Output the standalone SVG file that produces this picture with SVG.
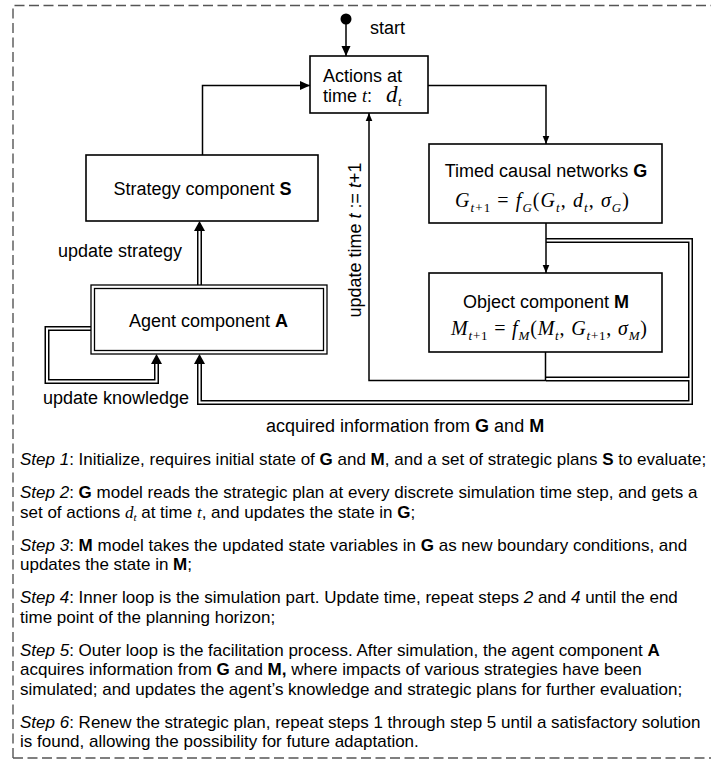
<svg xmlns="http://www.w3.org/2000/svg" width="711" height="764" viewBox="0 0 711 764">
<style>
text { font-family: "Liberation Sans", Arial, sans-serif; fill: #000; }
.lbl { font-size: 18px; }
.step { font-size: 17px; }
.b { font-weight: bold; }
.i { font-style: italic; }
.math { font-family: "Liberation Serif", "Times New Roman", serif; font-style: italic; font-size: 20px; }
.sub { font-size: 13px; }
.rm { font-style: normal; }
.box { fill: #fff; stroke: #000; stroke-width: 1.6; }
.thin { fill: none; stroke: #000; stroke-width: 1.3; }
.wire { fill: none; stroke: #000; stroke-width: 1.5; }
.dbl-outer { fill: none; stroke: #000; stroke-width: 5; }
.dbl-inner { fill: none; stroke: #fff; stroke-width: 2; }
.frame { fill: none; stroke: #555; stroke-width: 1.4; stroke-dasharray: 10 4.5; }
</style>
<defs>
  <marker id="arrow" markerUnits="userSpaceOnUse" markerWidth="10" markerHeight="10" refX="0" refY="0" orient="auto" overflow="visible">
    <path d="M-10,-4.5 L0,0 L-10,4.5 Z" fill="#000"/>
  </marker>
  <marker id="arrowSm" markerUnits="userSpaceOnUse" markerWidth="8" markerHeight="8" refX="0" refY="0" orient="auto" overflow="visible">
    <path d="M-8,-3.3 L0,0 L-8,3.3 Z" fill="#000"/>
  </marker>
  <marker id="arrowDbl" markerUnits="userSpaceOnUse" markerWidth="10" markerHeight="10" refX="0" refY="0" orient="auto" overflow="visible">
    <path d="M0,-5.5 L10,0 L0,5.5 Z" fill="#000"/>
  </marker>
</defs>

<!-- dashed frame around the whole figure -->
<path class="frame" d="M13,758 V5.5 H711"/>
<path class="frame" d="M13,758 H711"/>

<g id="connectors">
  <!-- start arrow -->
  <line class="wire" x1="346" y1="19" x2="346" y2="56" marker-end="url(#arrow)"/>
  <!-- strategy to actions -->
  <path class="wire" d="M202.5,155 V85.5 H310" marker-end="url(#arrow)"/>
  <!-- actions to G -->
  <path class="wire" d="M428,85.5 H546 V144" marker-end="url(#arrowSm)"/>
  <!-- double lines: outer facilitation loop -->
  <path class="dbl-outer" d="M546,240.5 H690.5 V402.5 H199.5 V364" marker-end="url(#arrowDbl)"/>
  <path class="dbl-outer" d="M546,379 H690.5"/>
  <path class="dbl-outer" d="M199.5,285 V231" marker-end="url(#arrowDbl)"/>
  <path class="dbl-outer" d="M91,328.5 H47 V381.5 H156.5 V364" marker-end="url(#arrowDbl)"/>
  <path class="dbl-inner" d="M546,240.5 H690.5 V402.5 H199.5 V364"/>
  <path class="dbl-inner" d="M546,379 H690.5"/>
  <path class="dbl-inner" d="M199.5,285 V231"/>
  <path class="dbl-inner" d="M91,328.5 H47 V381.5 H156.5 V364"/>
  <!-- G to M -->
  <line class="wire" x1="546" y1="223" x2="546" y2="273" marker-end="url(#arrowSm)"/>
  <!-- inner simulation loop: update time -->
  <path class="wire" d="M545.5,352 V380.5 H369 V113" marker-end="url(#arrowSm)"/>
</g>

<g id="start">
  <circle cx="346" cy="19" r="5.5" fill="#000"/>
  <text class="lbl" x="370" y="34">start</text>
</g>

<g id="actions">
  <rect class="box" x="310" y="56" width="118" height="57"/>
  <text class="lbl" x="323" y="82">Actions at</text>
  <text class="lbl" x="323" y="102">time <tspan class="math" style="font-size:18px">t</tspan>:</text>
  <text class="math" x="386" y="102" style="font-size:23px">d</text>
  <text class="math sub" x="398" y="106">t</text>
</g>

<g id="strategy">
  <rect class="box" x="86" y="155" width="232" height="66"/>
  <text class="lbl" x="202.5" y="195" text-anchor="middle">Strategy component <tspan class="b">S</tspan></text>
</g>

<g id="agent">
  <rect class="box" x="91" y="285" width="236" height="69" style="stroke-width:1.3"/>
  <rect class="thin" x="94.5" y="288.5" width="229" height="62"/>
  <text class="lbl" x="208.5" y="327" text-anchor="middle">Agent component <tspan class="b">A</tspan></text>
</g>

<g id="networks">
  <rect class="box" x="429" y="144" width="233" height="79"/>
  <text class="lbl" x="546" y="177" text-anchor="middle">Timed causal networks <tspan class="b">G</tspan></text>
  <text class="math" x="455" y="207" textLength="174" lengthAdjust="spacing">G<tspan class="sub" dy="5">t<tspan class="rm">+1</tspan></tspan><tspan class="rm" dy="-5"> = </tspan>f<tspan class="sub" dy="5">G</tspan><tspan class="rm" dy="-5">(</tspan>G<tspan class="sub" dy="5">t</tspan><tspan class="rm" dy="-5">, </tspan>d<tspan class="sub" dy="5">t</tspan><tspan class="rm" dy="-5">, </tspan>σ<tspan class="sub" dy="5">G</tspan><tspan class="rm" dy="-5">)</tspan></text>
</g>

<g id="object">
  <rect class="box" x="429" y="273" width="233" height="79"/>
  <text class="lbl" x="546" y="308" text-anchor="middle">Object component <tspan class="b">M</tspan></text>
  <text class="math" x="451" y="335" textLength="196" lengthAdjust="spacing">M<tspan class="sub" dy="5">t<tspan class="rm">+1</tspan></tspan><tspan class="rm" dy="-5"> = </tspan>f<tspan class="sub" dy="5">M</tspan><tspan class="rm" dy="-5">(</tspan>M<tspan class="sub" dy="5">t</tspan><tspan class="rm" dy="-5">, </tspan>G<tspan class="sub" dy="5">t<tspan class="rm">+1</tspan></tspan><tspan class="rm" dy="-5">, </tspan>σ<tspan class="sub" dy="5">M</tspan><tspan class="rm" dy="-5">)</tspan></text>
</g>

<g id="labels">
  <text class="lbl" x="58" y="257">update strategy</text>
  <text class="lbl" x="43" y="404">update knowledge</text>
  <text class="lbl" transform="translate(361,240) rotate(-90)" text-anchor="middle">update time <tspan class="i">t</tspan> := <tspan class="i">t</tspan>+1</text>
  <text class="lbl" x="266" y="432">acquired information from <tspan class="b">G</tspan> and <tspan class="b">M</tspan></text>
</g>

<g id="steps" class="step">
  <text class="step" x="20" y="465"><tspan class="i">Step 1</tspan>: Initialize, requires initial state of <tspan class="b">G</tspan> and <tspan class="b">M</tspan>, and a set of strategic plans <tspan class="b">S</tspan> to evaluate;</text>
  <text class="step" x="20" y="498"><tspan class="i">Step 2</tspan>: <tspan class="b">G</tspan> model reads the strategic plan at every discrete simulation time step, and gets a</text>
  <text class="step" x="20" y="517.5">set of actions <tspan class="math" style="font-size:17px">d</tspan><tspan class="math sub" style="font-size:11px" dy="3">t</tspan><tspan dy="-3"> at time </tspan><tspan class="math" style="font-size:17px">t</tspan>, and updates the state in <tspan class="b">G</tspan>;</text>
  <text class="step" x="20" y="550.5"><tspan class="i">Step 3</tspan>: <tspan class="b">M</tspan> model takes the updated state variables in <tspan class="b">G</tspan> as new boundary conditions, and</text>
  <text class="step" x="20" y="570">updates the state in <tspan class="b">M</tspan>;</text>
  <text class="step" x="20" y="603"><tspan class="i">Step 4</tspan>: Inner loop is the simulation part. Update time, repeat steps <tspan class="i">2</tspan> and <tspan class="i">4</tspan> until the end</text>
  <text class="step" x="20" y="622.5">time point of the planning horizon;</text>
  <text class="step" x="20" y="655.5"><tspan class="i">Step 5</tspan>: Outer loop is the facilitation process. After simulation, the agent component <tspan class="b">A</tspan></text>
  <text class="step" x="20" y="675">acquires information from <tspan class="b">G</tspan> and <tspan class="b">M,</tspan> where impacts of various strategies have been</text>
  <text class="step" x="20" y="694.5">simulated; and updates the agent’s knowledge and strategic plans for further evaluation;</text>
  <text class="step" x="20" y="727.5"><tspan class="i">Step 6</tspan>: Renew the strategic plan, repeat steps 1 through step 5 until a satisfactory solution</text>
  <text class="step" x="20" y="747">is found, allowing the possibility for future adaptation.</text>
</g>
</svg>
